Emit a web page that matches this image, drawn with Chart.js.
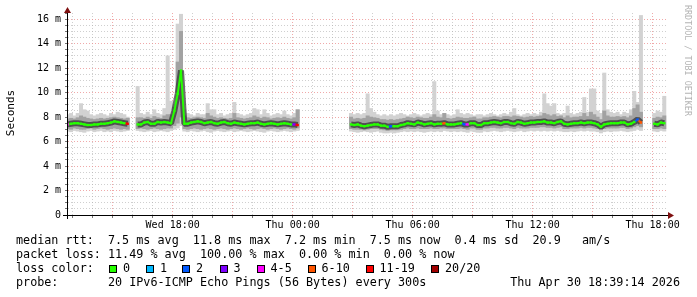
<!DOCTYPE html>
<html>
<head>
<meta charset="utf-8">
<script src="https://cdn.jsdelivr.net/npm/chart.js@4.4.1/dist/chart.umd.min.js"></script>
<style>
  html, body { margin: 0; padding: 0; background: #fff; }
</style>
</head>
<body>
<canvas id="smokeChart" width="697" height="297"></canvas>
<script>
// 10 minute slots, hours counted from Wed 00:00, first slot starts Wed 12:40
const slotStart = 12 + 40 / 60;
const slotHours = 10 / 60;

// median rtt (ms) per slot, null = no data
const median = [
  7.40,7.45,7.50,7.50,7.45,7.40,7.35,7.35,7.40,7.40,
  7.45,7.45,7.50,7.55,7.65,7.60,7.55,7.50,7.45,null,
  null,7.40,7.40,7.55,7.60,7.45,7.45,7.60,7.55,7.60,
  7.55,7.50,8.50,9.90,11.80,7.45,7.45,7.55,7.60,7.65,
  7.60,7.50,7.55,7.60,7.50,7.45,7.55,7.60,7.50,7.45,
  7.55,7.50,7.45,7.40,7.45,7.50,7.50,7.55,7.45,7.40,
  7.45,7.50,7.45,7.40,7.45,7.50,7.45,7.40,7.40,7.35,
  null,null,null,null,null,null,null,null,null,null,
  null,null,null,null,null,7.40,7.35,7.40,7.30,7.25,
  7.30,7.35,7.40,7.40,7.30,7.30,7.20,7.25,7.25,7.25,
  7.35,7.40,7.50,7.45,7.40,7.55,7.50,7.40,7.45,7.50,
  7.40,7.45,7.45,7.50,7.40,7.40,7.40,7.45,7.50,7.40,
  7.40,7.50,7.50,7.35,7.35,7.50,7.50,7.55,7.60,7.55,
  7.50,7.60,7.60,7.50,7.45,7.60,7.55,7.45,7.50,7.55,
  7.55,7.60,7.60,7.65,7.55,7.55,7.50,7.60,7.65,7.45,
  7.40,7.45,7.50,7.50,7.55,7.50,7.55,7.55,7.50,7.40,
  7.20,7.40,7.45,7.50,7.50,7.50,7.55,7.55,7.40,7.45,
  7.60,7.80,7.55,null,null,null,7.45,7.40,7.55,7.50
];

// smoke: fastest and slowest ping per slot
const smokeLo = [
  6.85,6.80,6.90,6.85,6.80,6.75,6.85,6.90,6.80,6.85,
  6.90,6.80,6.85,6.80,6.90,6.85,6.80,6.85,6.90,null,
  null,6.90,6.85,6.80,6.85,6.90,6.80,6.85,6.90,6.85,
  6.80,6.90,7.00,7.10,7.30,6.85,6.80,6.90,6.85,6.80,
  6.85,6.90,6.80,6.75,6.85,6.90,6.85,6.80,6.85,6.90,
  6.80,6.85,6.90,6.85,6.80,6.85,6.90,6.85,6.80,6.75,
  6.85,6.90,6.85,6.80,6.85,6.90,6.85,6.80,6.85,6.90,
  null,null,null,null,null,null,null,null,null,null,
  null,null,null,null,null,6.85,6.80,6.75,6.80,6.85,
  6.80,6.75,6.80,6.85,6.75,6.70,6.70,6.75,6.70,6.75,
  6.80,6.85,6.80,6.85,6.80,6.85,6.80,6.75,6.80,6.85,
  6.80,6.85,6.80,6.90,6.85,6.80,6.85,6.80,6.85,6.80,
  6.75,6.85,6.80,6.75,6.75,6.85,6.80,6.85,6.90,6.85,
  6.80,6.85,6.90,6.85,6.80,6.85,6.90,6.80,6.85,6.90,
  6.85,6.90,6.85,6.90,6.85,6.90,6.85,6.90,6.85,6.80,
  6.80,6.85,6.80,6.85,6.90,6.85,6.90,6.85,6.85,6.80,
  6.70,6.80,6.85,6.80,6.85,6.85,6.90,6.85,6.80,6.85,
  6.90,7.00,6.90,null,null,null,6.85,6.80,6.90,6.85
];
const smokeHi = [
  8.2,8.3,8.1,8.3,9.1,8.6,8.5,8.2,8.1,8.2,
  8.3,8.2,8.1,8.3,8.2,8.4,8.3,8.2,8.0,null,
  null,10.5,8.3,8.2,8.4,8.2,8.6,8.3,8.2,8.7,
  13.0,9.3,9.0,15.6,16.4,8.6,8.3,8.2,8.1,8.3,
  8.2,8.2,9.1,8.6,8.6,8.2,8.3,8.1,8.2,8.3,
  9.2,8.3,8.2,8.1,8.2,8.3,8.7,8.6,8.2,8.6,
  8.3,8.1,8.2,8.3,8.2,8.5,8.2,8.1,8.3,8.6,
  null,null,null,null,null,null,null,null,null,null,
  null,null,null,null,null,8.3,8.2,8.3,8.2,8.3,
  9.9,8.7,8.4,8.2,8.1,8.2,8.1,8.2,8.1,8.2,
  8.3,8.2,8.1,8.2,8.3,8.2,8.1,8.2,8.3,8.2,
  10.9,8.5,8.2,8.3,8.2,8.1,8.2,8.6,8.3,8.2,
  8.3,8.2,8.1,8.2,8.2,8.1,8.2,8.3,8.2,8.1,
  8.2,8.3,8.2,8.4,8.7,8.2,8.1,8.2,8.3,8.2,
  8.3,8.2,8.4,9.9,9.1,8.9,9.1,8.3,8.2,8.3,
  8.9,8.3,8.2,8.3,8.4,9.6,8.4,10.3,10.3,8.5,
  8.3,11.6,8.6,8.4,8.3,8.4,8.2,8.4,8.3,8.6,
  10.1,9.2,16.3,null,null,null,8.3,8.5,8.4,9.7
];

// denser middle part of the smoke
const coreLo = [
  7.05,7.00,7.10,7.05,7.00,7.00,7.05,7.10,7.00,7.05,
  7.10,7.05,7.00,7.05,7.10,7.05,7.00,7.05,7.00,null,
  null,7.05,7.10,7.05,7.00,7.05,7.10,7.05,7.00,7.05,
  7.10,7.10,7.30,7.50,8.00,7.05,7.00,7.05,7.10,7.05,
  7.00,7.05,7.10,7.05,7.00,7.05,7.10,7.05,7.00,7.05,
  7.10,7.05,7.00,7.05,7.10,7.05,7.00,7.05,7.10,7.05,
  7.00,7.05,7.10,7.05,7.00,7.05,7.10,7.05,7.00,7.10,
  null,null,null,null,null,null,null,null,null,null,
  null,null,null,null,null,7.05,7.00,7.00,7.00,6.95,
  7.00,7.05,7.05,7.05,7.00,6.95,6.90,6.95,6.95,6.95,
  7.00,7.05,7.10,7.05,7.05,7.10,7.05,7.05,7.05,7.10,
  7.05,7.05,7.10,7.10,7.05,7.05,7.05,7.05,7.10,7.05,
  7.00,7.10,7.10,7.00,7.00,7.10,7.10,7.15,7.15,7.10,
  7.10,7.15,7.15,7.10,7.05,7.15,7.10,7.10,7.10,7.15,
  7.15,7.15,7.20,7.20,7.15,7.15,7.10,7.15,7.20,7.05,
  7.05,7.10,7.10,7.10,7.15,7.10,7.15,7.15,7.10,7.05,
  6.95,7.05,7.10,7.10,7.10,7.10,7.15,7.15,7.05,7.10,
  7.20,7.30,7.20,null,null,null,7.05,7.05,7.10,7.05
];
const coreHi = [
  7.85,7.90,7.85,7.95,8.10,8.00,7.90,7.85,7.80,7.85,
  7.90,7.85,7.90,7.95,8.00,7.95,7.90,7.85,7.90,null,
  null,7.95,7.95,7.90,8.00,7.90,8.05,7.95,7.90,8.10,
  8.20,8.20,8.80,12.5,15.0,8.10,7.95,7.90,7.95,8.00,
  7.95,7.90,8.30,8.10,8.00,7.90,7.95,7.90,7.85,7.90,
  8.30,7.95,7.90,7.85,7.90,7.95,8.10,8.00,7.90,8.00,
  7.95,7.85,7.90,7.95,7.90,8.00,7.90,7.85,7.95,8.60,
  null,null,null,null,null,null,null,null,null,null,
  null,null,null,null,null,8.00,7.85,7.90,7.85,7.90,
  8.10,8.00,7.95,7.90,7.80,7.80,7.75,7.80,7.75,7.80,
  7.85,7.90,8.00,7.95,7.90,8.00,7.95,7.90,7.90,8.00,
  8.20,8.00,7.95,8.30,7.90,7.85,7.90,8.00,7.95,7.90,
  7.90,7.95,8.00,7.85,7.85,7.95,7.95,8.00,8.05,8.00,
  7.95,8.05,8.05,8.00,8.10,8.05,8.00,7.95,8.00,8.05,
  8.00,8.05,8.10,8.30,8.20,8.10,8.20,8.05,8.10,7.95,
  8.10,7.95,8.00,8.00,8.05,8.30,8.05,8.40,8.20,8.00,
  7.80,8.50,8.10,8.00,8.00,8.05,8.00,8.05,7.95,8.10,
  8.70,9.00,8.40,null,null,null,7.90,8.00,7.95,8.10
];

// slots that lost packets, and the loss class of each
const lossSlots  = [0, 18, 68, 69, 97, 113, 119, 120, 171, 172];
const lossLevels = [4, 6, 3, 6, 2, 5, 2, 4, 2, 5];

const lossLabels = ['0', '1', '2', '3', '4-5', '6-10', '11-19', '20/20'];
const lossColors = ['#26ff00', '#00b8ff', '#0059ff', '#7e00ff', '#ff00ff', '#ff5500', '#ff0000', '#a10000'];
const dayNames = ['Wed', 'Thu'];

const rttLine   = 'median rtt:  7.5 ms avg  11.8 ms max  7.2 ms min  7.5 ms now  0.4 ms sd  20.9   am/s';
const lossLine  = 'packet loss: 11.49 % avg  100.00 % max  0.00 % min  0.00 % now';
const probeLine = 'probe:       20 IPv6-ICMP Echo Pings (56 Bytes) every 300s';
const stampText = 'Thu Apr 30 18:39:14 2026';

const MONO = '"DejaVu Sans Mono", "Liberation Mono", monospace';

const slotX = median.map((_, i) => slotStart + (i + 0.5) * slotHours);
const lossAt = median.map(() => 0);
lossSlots.forEach((s, k) => { lossAt[s] = lossLevels[k]; });

const toBars = (lo, hi) => slotX.map((x, i) => ({x: x, y: lo[i] === null ? null : [lo[i], hi[i]]}));
const toLine = (arr) => slotX.map((x, i) => ({x: x, y: arr[i]}));

const timeLabel = (v) => {
  if (Math.abs(v % 6) > 1e-6) return '';
  const day = dayNames[Math.floor(v / 24)];
  const hh = String(Math.round(v % 24)).padStart(2, '0');
  return day + ' ' + hh + ':00';
};

const majorGrid = 'rgba(235,140,140,0.75)';
const minorGrid = 'rgba(175,175,175,0.6)';

// axes arrows, titles and the text legend under the graph
const rrdDecor = {
  id: 'rrdDecor',
  afterDraw(chart) {
    const ctx = chart.ctx;
    const a = chart.chartArea;
    const ax = Math.floor(a.left) + 0.5;
    const ay = Math.floor(a.bottom) + 0.5;
    ctx.save();
    ctx.strokeStyle = '#000';
    ctx.lineWidth = 1;
    ctx.beginPath();
    ctx.moveTo(a.left - 4, ay); ctx.lineTo(a.right + 1, ay);
    ctx.moveTo(ax, a.bottom + 4); ctx.lineTo(ax, a.top - 2);
    ctx.stroke();

    ctx.fillStyle = '#7f1010';
    ctx.beginPath();
    ctx.moveTo(a.right, ay - 3.5); ctx.lineTo(a.right + 6, ay); ctx.lineTo(a.right, ay + 3.5);
    ctx.closePath(); ctx.fill();
    ctx.beginPath();
    ctx.moveTo(ax - 3.5, a.top); ctx.lineTo(ax, a.top - 6); ctx.lineTo(ax + 3.5, a.top);
    ctx.closePath(); ctx.fill();

    // vertical title
    ctx.fillStyle = '#000';
    ctx.font = '11px ' + MONO;
    ctx.textAlign = 'center';
    ctx.textBaseline = 'middle';
    ctx.save();
    ctx.translate(11, 113);
    ctx.rotate(-Math.PI / 2);
    ctx.fillText('Seconds', 0, 0);
    ctx.restore();

    ctx.save();
    ctx.fillStyle = '#b4b4b4';
    ctx.font = '8.4px ' + MONO;
    ctx.translate(687, 5);
    ctx.rotate(Math.PI / 2);
    ctx.textAlign = 'left';
    ctx.fillText('RRDTOOL / TOBI OETIKER', 0, 0);
    ctx.restore();

    // legend rows
    ctx.font = '11.75px ' + MONO;
    ctx.textAlign = 'left';
    ctx.fillStyle = '#000';
    ctx.fillText(rttLine, 16, 241);
    ctx.fillText(lossLine, 16, 255);

    ctx.fillText('loss color:', 16, 269);
    [109, 146, 182, 219.5, 256.5, 307.5, 365.5, 431].forEach((x, k) => {
      ctx.fillStyle = lossColors[k];
      ctx.fillRect(Math.round(x), 265, 8, 8);
      ctx.strokeStyle = '#000';
      ctx.strokeRect(Math.round(x) + 0.5, 265.5, 7, 7);
      ctx.fillStyle = '#000';
      ctx.fillText(lossLabels[k], x + 14, 269);
    });

    ctx.fillText(probeLine, 16, 283);
    ctx.textAlign = 'right';
    ctx.fillText(stampText, 680, 283);
    ctx.restore();
  }
};

const ctx = document.getElementById('smokeChart').getContext('2d');

new Chart(ctx, {
  type: 'line',
  data: {
    datasets: [
      {
        type: 'bar',
        data: toBars(smokeLo, smokeHi),
        backgroundColor: '#d2d2d2',
        borderWidth: 0,
        grouped: false,
        barPercentage: 1,
        categoryPercentage: 1,
        order: 4
      },
      {
        type: 'bar',
        data: toBars(coreLo, coreHi),
        backgroundColor: '#a2a2a2',
        borderWidth: 0,
        grouped: false,
        barPercentage: 1,
        categoryPercentage: 1,
        order: 3
      },
      {
        // dark core of the smoke around the median
        data: toLine(median),
        borderColor: 'rgba(45,45,45,0.7)',
        borderWidth: 6,
        borderJoinStyle: 'bevel',
        pointRadius: 0,
        spanGaps: false,
        order: 2
      },
      {
        data: toLine(median),
        borderColor: lossColors[0],
        borderWidth: 2,
        borderJoinStyle: 'bevel',
        pointStyle: 'rect',
        pointRadius: 1.7,
        pointBorderWidth: 0,
        pointBackgroundColor: (c) => lossColors[lossAt[c.dataIndex]],
        segment: {
          borderColor: (c) => lossColors[lossAt[c.p1DataIndex]]
        },
        spanGaps: false,
        order: 1
      }
    ]
  },
  options: {
    responsive: false,
    animation: false,
    devicePixelRatio: 1,
    layout: { padding: { top: 13, right: 29, bottom: 0, left: 0 } },
    plugins: {
      legend: { display: false },
      tooltip: { enabled: false }
    },
    scales: {
      x: {
        type: 'linear',
        min: 12.715,
        max: 42.77,
        offset: false,
        ticks: {
          stepSize: 1,
          includeBounds: false,
          autoSkip: false,
          maxRotation: 0,
          minRotation: 0,
          padding: 1,
          color: '#000',
          font: { family: MONO, size: 10 },
          callback: (v) => timeLabel(v)
        },
        grid: {
          offset: false,
          color: (c) => c.tick ? (Math.abs(c.tick.value % 3) < 1e-6 ? majorGrid : minorGrid) : 'transparent',
          tickLength: 3,
          tickColor: '#777'
        },
        border: { color: '#000', dash: [1, 2] },
        afterFit: (s) => { s.height = 82; }
      },
      y: {
        min: 0,
        max: 16.5,
        ticks: {
          stepSize: 0.5,
          autoSkip: false,
          padding: 4,
          color: '#000',
          font: { family: MONO, size: 10 },
          callback: (v) => Math.abs(v % 2) < 1e-6 ? (v === 0 ? '0' : v + ' m') : ''
        },
        grid: {
          color: (c) => {
            if (!c.tick || c.tick.value <= 0 || c.tick.value > 16.4) return 'transparent';
            return Math.abs(c.tick.value % 2) < 1e-6 ? majorGrid : minorGrid;
          },
          tickLength: 2,
          tickColor: '#777'
        },
        border: { color: '#000', dash: [1, 2] },
        afterFit: (s) => { s.width = 67; }
      }
    }
  },
  plugins: [rrdDecor]
});
</script>
</body>
</html>
